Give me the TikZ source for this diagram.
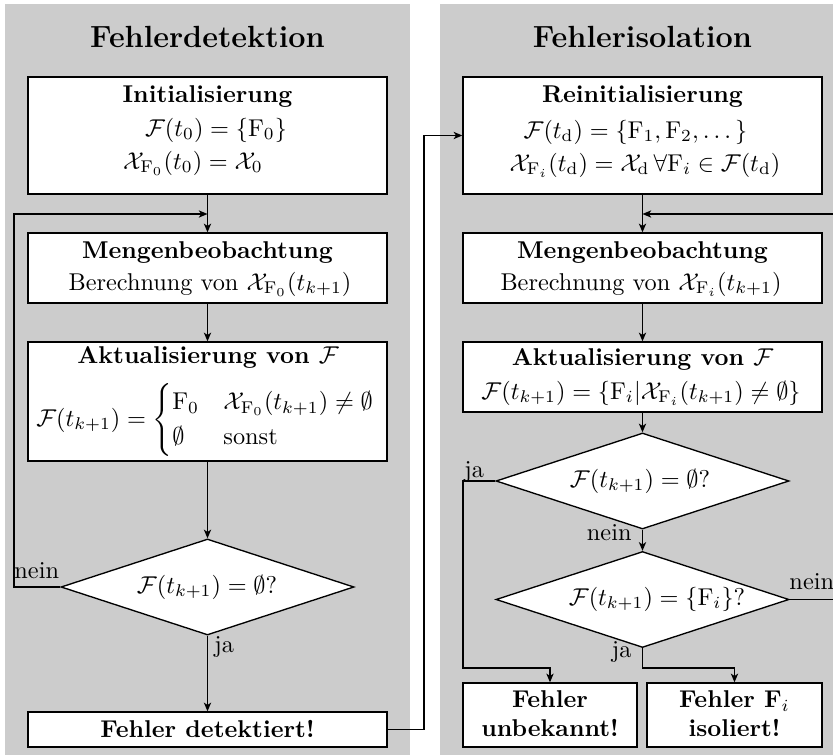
\documentclass[tikz,border=0pt]{standalone}
\usepackage{amsmath}
\usetikzlibrary{shapes.geometric,arrows.meta}
% one drawing unit
\newcommand\pxu{0.4115pt}
\begin{document}
\begin{tikzpicture}[x=0.4115pt,y=-0.4115pt, inner sep=1pt,
  panel/.style={fill=black!20},
  box/.style={draw, fill=white, line width=0.55pt, inner sep=0pt},
  decision/.style={diamond, draw, fill=white, line width=0.55pt, inner sep=0pt,
    minimum width=293*\pxu, minimum height=96*\pxu},
  flow/.style={line width=0.55pt, -{Stealth[length=3.6pt,width=3pt,inset=1pt]}},
  title/.style={font=\fontsize{12.6}{15}\selectfont\bfseries},
  head/.style={font=\bfseries},
  lbl/.style={inner sep=0pt},
]
\useasboundingbox (0,0) rectangle (833,755);

% background panels
\fill[panel] (5,4) rectangle (410,760);
\fill[panel] (440,4) rectangle (845,760);

% ---------- Fehlerdetektion ----------
\node[title] (tL) at (207.5,37) {Fehlerdetektion};

\node[box, minimum width=359*\pxu, minimum height=117*\pxu] (init) at (207.5,135.5) {};
\node[head] (initH) at (207.5,97) {Initialisierung};
\node (initA) at (216,130) {$\mathcal{F}(t_0)=\{\mathrm{F}_0\}$};
\node (initB) at (193,163) {$\mathcal{X}_{\mathrm{F}_0}(t_0)=\mathcal{X}_0$};

\node[box, minimum width=359*\pxu, minimum height=70*\pxu] (meng) at (207.5,268) {};
\node[head] (mengH) at (207.5,253) {Mengenbeobachtung};
\node (mengT) at (210,284) {Berechnung von $\mathcal{X}_{\mathrm{F}_0}(t_{k+1})$};

\node[box, minimum width=359*\pxu, minimum height=119*\pxu] (akt) at (207.5,401.5) {};
\node[head] (aktH) at (208,357.5) {Aktualisierung von $\mathcal{F}$};
\node[inner sep=0pt] (aktE) at (206,420) {$\mathcal{F}(t_{k+1})=\begin{cases}\mathrm{F}_0 & \mathcal{X}_{\mathrm{F}_0}(t_{k+1})\neq\emptyset\\ \emptyset & \text{sonst}\end{cases}$};

\node[decision] (dL) at (207.5,587) {};
\node (dLT) at (207,587) {$\mathcal{F}(t_{k+1})=\emptyset?$};

\node[box, minimum width=359*\pxu, minimum height=35*\pxu] (det) at (207.5,729.5) {};
\node[head] (detT) at (207.5,729.5) {Fehler detektiert!};

\node[lbl, anchor=base west] (neinL) at (14,578) {nein};
\node[lbl, anchor=base west] (jaL) at (214,652) {ja};

\coordinate (loopLa) at (14,587);
\coordinate (loopLb) at (14,214);
\coordinate (mergeL) at (207.5,214);
\coordinate (crossX) at (424,135.5);

\draw[flow] (init) -- (meng);
\draw[flow] (dL.west) -- (loopLa) -- (loopLb) -- (mergeL);
\draw[flow] (meng) -- (akt);
\draw[flow] (akt) -- (dL);
\draw[flow] (dL) -- (det);

% ---------- Fehlerisolation ----------
\node[title] (tR) at (642.5,37) {Fehlerisolation};

\node[box, minimum width=359*\pxu, minimum height=117*\pxu] (reinit) at (642.5,135.5) {};
\node[head] (reinitH) at (642.5,97) {Reinitialisierung};
\node (reinitA) at (635.5,132) {$\mathcal{F}(t_{\mathrm{d}})=\{\mathrm{F}_1,\mathrm{F}_2,\dots\}$};
\node (reinitB) at (645,165) {$\mathcal{X}_{\mathrm{F}_i}(t_{\mathrm{d}})=\mathcal{X}_{\mathrm{d}}\,\forall\mathrm{F}_i\in\mathcal{F}(t_{\mathrm{d}})$};

\node[box, minimum width=359*\pxu, minimum height=70*\pxu] (meng2) at (642.5,268) {};
\node[head] (meng2H) at (642.5,253) {Mengenbeobachtung};
\node (meng2T) at (641,284) {Berechnung von $\mathcal{X}_{\mathrm{F}_i}(t_{k+1})$};

\node[box, minimum width=359*\pxu, minimum height=70*\pxu] (akt2) at (642.5,377) {};
\node[head] (akt2H) at (642.5,359) {Aktualisierung von $\mathcal{F}$};
\node (akt2E) at (641,393) {$\mathcal{F}(t_{k+1})=\{\mathrm{F}_i|\mathcal{X}_{\mathrm{F}_i}(t_{k+1})\neq\emptyset\}$};

\node[decision] (d1) at (642.5,481) {};
\node (d1T) at (640,481) {$\mathcal{F}(t_{k+1})=\emptyset?$};

\node[decision] (d2) at (642.5,599.5) {};
\node (d2T) at (657,599) {$\mathcal{F}(t_{k+1})=\{\mathrm{F}_i\}?$};

\node[box, minimum width=174*\pxu, minimum height=64*\pxu] (unb) at (550,715) {};
\node[head, align=center] (unbT) at (550,714) {Fehler\\unbekannt!};

\node[box, minimum width=175*\pxu, minimum height=64*\pxu] (iso) at (734.5,715) {};
\node[head, align=center] (isoT) at (734.5,714) {Fehler $\mathbf{F}_i$\\isoliert!};

\node[lbl, anchor=base west] (jaR1) at (464,477) {ja};
\node[lbl, anchor=base east] (neinR1) at (632,540) {nein};
\node[lbl, anchor=base west] (neinR2) at (789,589) {nein};
\node[lbl, anchor=base east] (jaR2) at (632,657) {ja};

\coordinate (loopRa) at (840,599.5);
\coordinate (loopRb) at (840,214);
\coordinate (mergeR) at (642.5,214);
\coordinate (jaCorner) at (463,668);
\coordinate (isoCorner) at (734.5,668);

% hand-over from detection to isolation
\draw[flow] (det.east) -| (crossX) -- (reinit.west);

\draw[flow] (reinit) -- (meng2);
\draw[flow] (d2.east) -- (loopRa) -- (loopRb) -- (mergeR);
\draw[flow] (meng2) -- (akt2);
\draw[flow] (akt2) -- (d1);
\draw[flow] (d1.west) -| (jaCorner) -| (unb.north);
\draw[flow] (d1) -- (d2);
\draw[flow] (d2.south) |- (isoCorner) -- (iso.north);
\end{tikzpicture}
\end{document}
